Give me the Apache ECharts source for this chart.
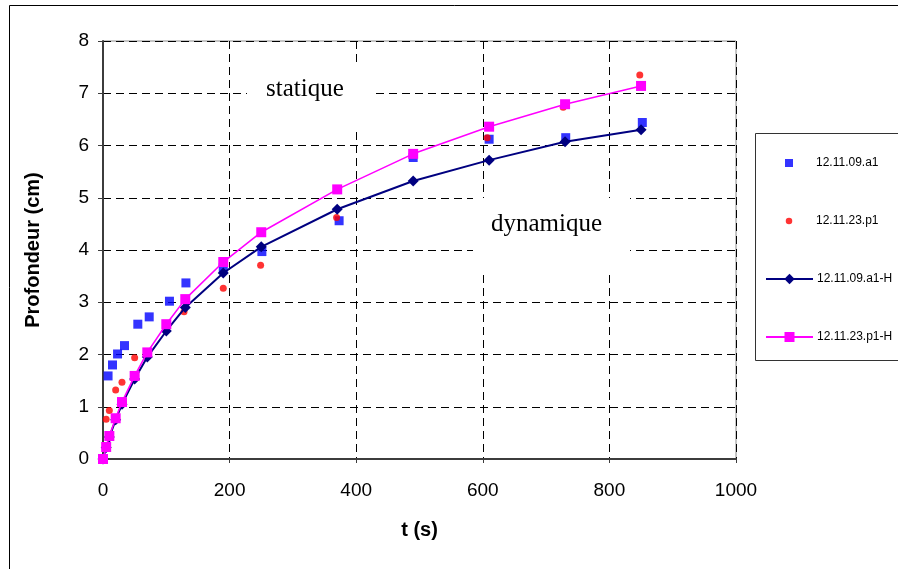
<!DOCTYPE html>
<html>
<head>
<meta charset="utf-8">
<script src="https://cdn.jsdelivr.net/npm/echarts@6/dist/echarts.min.js"></script>
<style>
html,body{margin:0;padding:0;background:#fff;}
#chart{width:898px;height:569px;}
</style>
</head>
<body>
<div id="chart"></div>
<script>
// ---- data ----
var seriesNames = ['12.11.09.a1', '12.11.23.p1', '12.11.09.a1-H', '12.11.23.p1-H'];

var tA1 = [0, 8, 15, 23, 34, 55, 73, 105, 131, 190, 251, 373, 490, 610, 731, 852];
var dA1 = [0, 1.59, 1.80, 2.01, 2.17, 2.58, 2.72, 3.02, 3.37, 3.66, 3.97, 4.56, 5.77, 6.12, 6.15, 6.44];

var tP1 = [0, 5, 10, 20, 30, 50, 70, 100, 128, 190, 249, 369, 490, 607, 727, 848];
var dP1 = [0, 0.76, 0.93, 1.32, 1.47, 1.94, 2.03, 2.55, 2.82, 3.27, 3.71, 4.62, 5.83, 6.15, 6.73, 7.35];

var tH = [0, 5, 10, 20, 30, 50, 70, 100, 130, 190, 250, 370, 490, 610, 730, 850];
var dA1H = [0, 0.22, 0.42, 0.75, 1.05, 1.53, 1.95, 2.45, 2.90, 3.56, 4.06, 4.78, 5.32, 5.72, 6.07, 6.30];
var dP1H = [0, 0.23, 0.44, 0.78, 1.09, 1.59, 2.04, 2.58, 3.06, 3.77, 4.34, 5.16, 5.84, 6.36, 6.79, 7.14];

var xTitle = 't (s)';
var yTitle = 'Profondeur (cm)';
var annotations = ['statique', 'dynamique'];

function pairs(t, d) { return t.map(function (v, i) { return [v, d[i]]; }); }

var SANS = '"Liberation Sans", Arial, sans-serif';
var SERIF = '"Liberation Serif", "Times New Roman", serif';

var chart = echarts.init(document.getElementById('chart'), null, {renderer: 'canvas'});

// icon centre x = 789, text start x = 816
function legendAt(name, cy, h, w, lineIcon) {
  var left = lineIcon ? 765 : 789 - w / 2;
  var padLeft = 816 - (left + w + 5);
  return {
    data: [name], left: left, top: cy - 7, orient: 'vertical', padding: 0,
    itemWidth: w, itemHeight: h, itemGap: 0, selectedMode: false,
    textStyle: {fontFamily: SANS, fontSize: 12, color: '#000', lineHeight: 14, padding: [0, 0, 0, padLeft]}
  };
}

var gridDash = {color: '#000', width: 1, type: [8, 5]};

var option = {
  backgroundColor: '#fff',
  animation: false,
  grid: {left: 103, top: 41, right: 162, bottom: 110, show: true, borderColor: '#8c8c8c', borderWidth: 1, backgroundColor: '#fff'},
  legend: [
    legendAt(seriesNames[0], 163, 8, 8, false),
    legendAt(seriesNames[1], 221, 6.5, 6.5, false),
    legendAt(seriesNames[2], 279, 13, 47, true),
    legendAt(seriesNames[3], 337, 12.5, 47, true)
  ],
  xAxis: {
    type: 'value', min: 0, max: 1000, interval: 200,
    name: xTitle, nameLocation: 'middle', nameGap: 61,
    nameTextStyle: {fontFamily: SANS, fontWeight: 'bold', fontSize: 20, color: '#000'},
    axisLine: {lineStyle: {color: '#3c3c3c', width: 2}},
    axisTick: {show: true, length: 4, lineStyle: {color: '#3c3c3c', width: 1}},
    axisLabel: {fontFamily: SANS, fontSize: 19, color: '#000', margin: 22, formatter: function (v) { return String(v); }},
    splitLine: {show: true, lineStyle: gridDash}
  },
  yAxis: {
    type: 'value', min: 0, max: 8, interval: 1,
    name: yTitle, nameLocation: 'middle', nameGap: 60, nameRotate: 90,
    nameTextStyle: {fontFamily: SANS, fontWeight: 'bold', fontSize: 20, color: '#000'},
    axisLine: {show: true, lineStyle: {color: '#3c3c3c', width: 2}},
    axisTick: {show: true, length: 5, lineStyle: {color: '#3c3c3c', width: 1}},
    axisLabel: {fontFamily: SANS, fontSize: 19, color: '#000', margin: 14, formatter: function (v) { return String(v); }},
    splitLine: {show: true, lineStyle: gridDash}
  },
  graphic: [
    {type: 'rect', shape: {x: 9.5, y: 5.5, width: 900, height: 600}, style: {fill: 'none', stroke: '#000', lineWidth: 1}, z: -10, silent: true},
    {type: 'rect', shape: {x: 755.5, y: 133.5, width: 160, height: 227}, style: {fill: '#fff', stroke: '#333', lineWidth: 1}, z: -5, silent: true},
    {type: 'rect', shape: {x: 247, y: 62, width: 125, height: 69}, style: {fill: '#fff'}, z: 1, silent: true},
    {type: 'text', x: 266, y: 89, style: {text: annotations[0], font: '25px ' + SERIF, fill: '#000', verticalAlign: 'middle'}, z: 1, silent: true},
    {type: 'rect', shape: {x: 473, y: 198, width: 157, height: 72}, style: {fill: '#fff'}, z: 1, silent: true},
    {type: 'text', x: 491, y: 224, style: {text: annotations[1], font: '25px ' + SERIF, fill: '#000', verticalAlign: 'middle'}, z: 1, silent: true}
  ],
  series: [
    {name: seriesNames[0], type: 'scatter', data: pairs(tA1, dA1), symbol: 'rect', symbolSize: 9,
     itemStyle: {color: '#0000ff'}, z: 2},
    {name: seriesNames[1], type: 'scatter', data: pairs(tP1, dP1), symbol: 'circle', symbolSize: 7,
     itemStyle: {color: '#ff0000'}, z: 3},
    {name: seriesNames[2], type: 'line', data: pairs(tH, dA1H), symbol: 'diamond', symbolSize: 11, showAllSymbol: true,
     itemStyle: {color: '#000080'}, lineStyle: {color: '#000080', width: 2}, z: 4},
    {name: seriesNames[3], type: 'line', data: pairs(tH, dP1H), symbol: 'rect', symbolSize: 10, showAllSymbol: true,
     itemStyle: {color: '#ff00ff'}, lineStyle: {color: '#ff00ff', width: 1.6}, z: 5}
  ]
};
chart.setOption(option);
</script>
</body>
</html>
